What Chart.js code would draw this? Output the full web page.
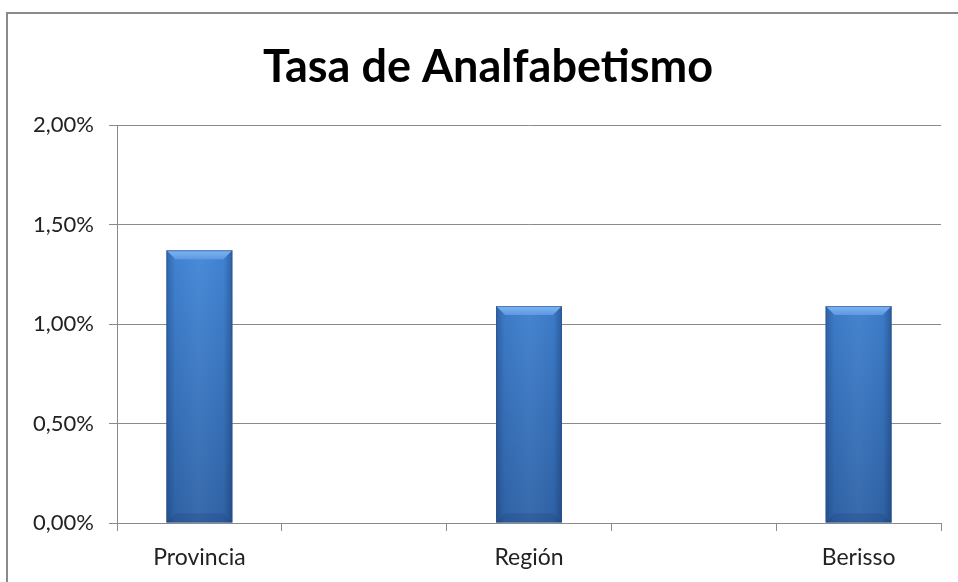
<!DOCTYPE html>
<html>
<head>
<meta charset="utf-8">
<script src="https://cdn.jsdelivr.net/npm/chart.js@4/dist/chart.umd.min.js"></script>
<style>
  html, body { margin: 0; padding: 0; background: #fff; }
  #frame {
    position: absolute; left: 6px; top: 12px; width: 1000px; height: 600px;
    border-left: 2px solid #8a8a8a; border-top: 2px solid #8a8a8a;
  }
  #wrap { position: absolute; left: 0; top: 0; width: 958px; height: 582px; }
</style>
</head>
<body>
<div id="frame"></div>
<div id="wrap"><canvas id="chart"></canvas></div>
<script>
// categories (blank slots are empty columns in the original sheet)
const categories = ["Provincia", "", "Región", "", "Berisso"];
const tasa = [1.37, null, 1.09, null, 1.09];
const yTicks = [0, 0.5, 1, 1.5, 2];

const FONT = "Lato, 'Open Sans', sans-serif";

// fake the excel bevel look on each bar
const bevelPlugin = {
    id: 'bevel',
    afterLayout(chart) {
        // left padding is only there to center the title, let y labels use it
        chart.scales.y.left = 0;
    },
    afterDatasetsDraw(chart) {
        const ctx = chart.ctx;
        const meta = chart.getDatasetMeta(0);
        meta.data.forEach((bar, i) => {
            if (tasa[i] == null) return;
            const p = bar.getProps(['x', 'y', 'base', 'width'], true);
            const l = p.x - p.width / 2, r = p.x + p.width / 2;
            const t = p.y, b = p.base;
            const bv = 9;
            ctx.save();
            // side shading
            let g = ctx.createLinearGradient(l, 0, r, 0);
            g.addColorStop(0, 'rgba(10,30,70,0.3)');
            g.addColorStop(0.13, 'rgba(10,30,70,0.04)');
            g.addColorStop(0.5, 'rgba(255,255,255,0.04)');
            g.addColorStop(0.87, 'rgba(10,30,70,0.04)');
            g.addColorStop(1, 'rgba(10,30,70,0.35)');
            ctx.fillStyle = g;
            ctx.fillRect(l, t, r - l, b - t);
            // top bevel
            ctx.beginPath();
            ctx.moveTo(l, t);
            ctx.lineTo(r, t);
            ctx.lineTo(r - bv, t + bv);
            ctx.lineTo(l + bv, t + bv);
            ctx.closePath();
            g = ctx.createLinearGradient(0, t, 0, t + bv);
            g.addColorStop(0, '#80b6f2');
            g.addColorStop(1, '#5b98e2');
            ctx.fillStyle = g;
            ctx.fill();
            // bottom bevel, faint
            ctx.beginPath();
            ctx.moveTo(l, b);
            ctx.lineTo(r, b);
            ctx.lineTo(r - bv, b - bv);
            ctx.lineTo(l + bv, b - bv);
            ctx.closePath();
            ctx.fillStyle = 'rgba(20,50,100,0.18)';
            ctx.fill();
            // outline
            ctx.strokeStyle = 'rgba(40,80,140,0.6)';
            ctx.lineWidth = 1;
            ctx.strokeRect(l + 0.5, t + 0.5, r - l - 1, b - t - 1);
            ctx.restore();
        });
    }
};

new Chart(document.getElementById('chart'), {
    type: 'bar',
    data: {
        labels: categories,
        datasets: [{
            data: tasa,
            backgroundColor: (c) => {
                const area = c.chart.chartArea;
                if (!area) return '#3d7ccc';
                const g = c.chart.ctx.createLinearGradient(0, area.top + 120, 0, area.bottom);
                g.addColorStop(0, '#4387d8');
                g.addColorStop(1, '#3064a8');
                return g;
            },
            borderWidth: 0,
            categoryPercentage: 1,
            barPercentage: 0.4
        }]
    },
    options: {
        responsive: true,
        maintainAspectRatio: false,
        animation: false,
        layout: { padding: { left: 35, right: 17, top: 0, bottom: 0 } },
        plugins: {
            legend: { display: false },
            tooltip: { enabled: false },
            title: {
                display: true,
                text: 'Tasa de Analfabetismo',
                color: '#000',
                font: { family: FONT, size: 45, weight: 'bold', lineHeight: 1.2 },
                padding: { top: 40, bottom: 31 }
            }
        },
        scales: {
            x: {
                grid: { offset: true, drawOnChartArea: false, color: '#8a8a8a', tickLength: 8 },
                border: { color: '#8a8a8a' },
                ticks: { color: '#222', font: { family: FONT, size: 23 }, padding: 13, autoSkip: false, maxRotation: 0 },
                afterFit: (s) => { s.height = 59; }
            },
            y: {
                min: 0,
                max: 2,
                afterBuildTicks: (s) => { s.ticks = yTicks.map(v => ({ value: v })); },
                grid: { color: '#8a8a8a', tickLength: 8 },
                border: { color: '#8a8a8a' },
                ticks: {
                    color: '#222',
                    font: { family: FONT, size: 22 },
                    padding: 15,
                    callback: (v) => v.toFixed(2).replace('.', ',') + '%'
                },
                afterFit: (s) => { s.width = 82; }
            }
        }
    },
    plugins: [bevelPlugin]
});
</script>
</body>
</html>
